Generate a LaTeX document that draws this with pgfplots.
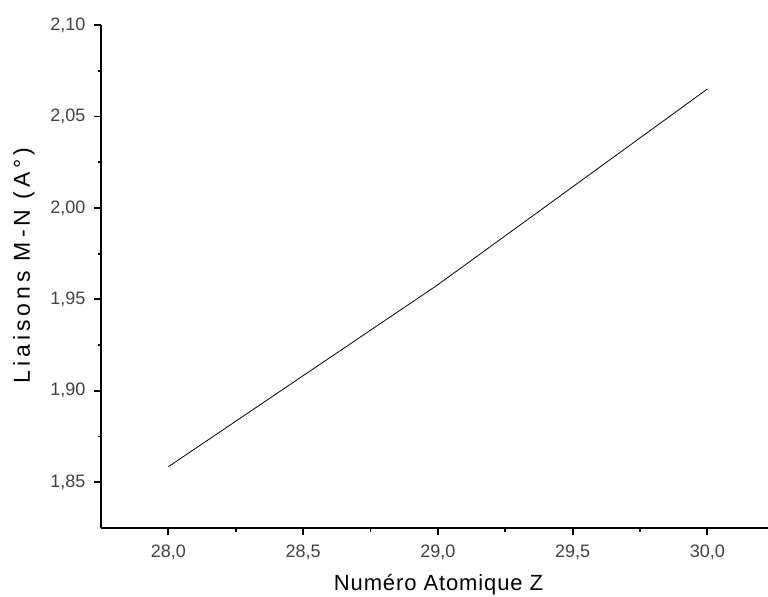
\documentclass[border=0pt]{standalone}
\usepackage{pgfplots}
\pgfplotsset{compat=1.18}
\usepackage{fontspec}
\setmainfont{Liberation Sans}
\newfontfamily\xlabfont[LetterSpace=4]{Liberation Sans}
\newfontfamily\ylabfont[LetterSpace=17]{Liberation Sans}
\begin{document}
\begin{tikzpicture}
\useasboundingbox (0,0) rectangle (768bp,597bp);
\begin{axis}[
  at={(101bp,69bp)}, anchor=south west,
  scale only axis, width=667bp, height=503bp,
  xmin=27.75, xmax=30.225, ymin=1.825, ymax=2.10,
  axis x line*=bottom, axis y line*=left,
  axis line style={line width=1.8bp, -},
  xtick={28,28.5,29,29.5,30},
  ytick={1.85,1.90,1.95,2.00,2.05,2.10},
  minor x tick num=1, minor y tick num=1,
  tick align=outside,
  major tick length=7bp, minor tick length=3.5bp,
  every tick/.style={line width=1.8bp, black},
  /pgf/number format/assume math mode=true,
  xticklabel style={yshift=-6bp, /pgf/number format/.cd, use comma, fixed, fixed zerofill, precision=1},
  yticklabel style={xshift=-5bp, /pgf/number format/.cd, use comma, fixed, fixed zerofill, precision=2},
  ticklabel style={font=\fontsize{18bp}{20bp}\selectfont, text=black!75},
  xlabel={\xlabfont Numéro Atomique Z},
  ylabel={\ylabfont Liaisons M-N (A°)},
  xlabel style={font=\fontsize{22bp}{24bp}\selectfont, at={(axis description cs:0.5,0)}, anchor=north, yshift=-43bp, xshift=4bp},
  ylabel style={font=\fontsize{23bp}{26bp}\selectfont, at={(axis description cs:-0.1155,0.522)}, anchor=center},
  clip=false,
]
\addplot[black, line width=0.8bp] coordinates {(28,1.8585) (29,1.958) (30,2.065)};
\end{axis}
\end{tikzpicture}
\end{document}
